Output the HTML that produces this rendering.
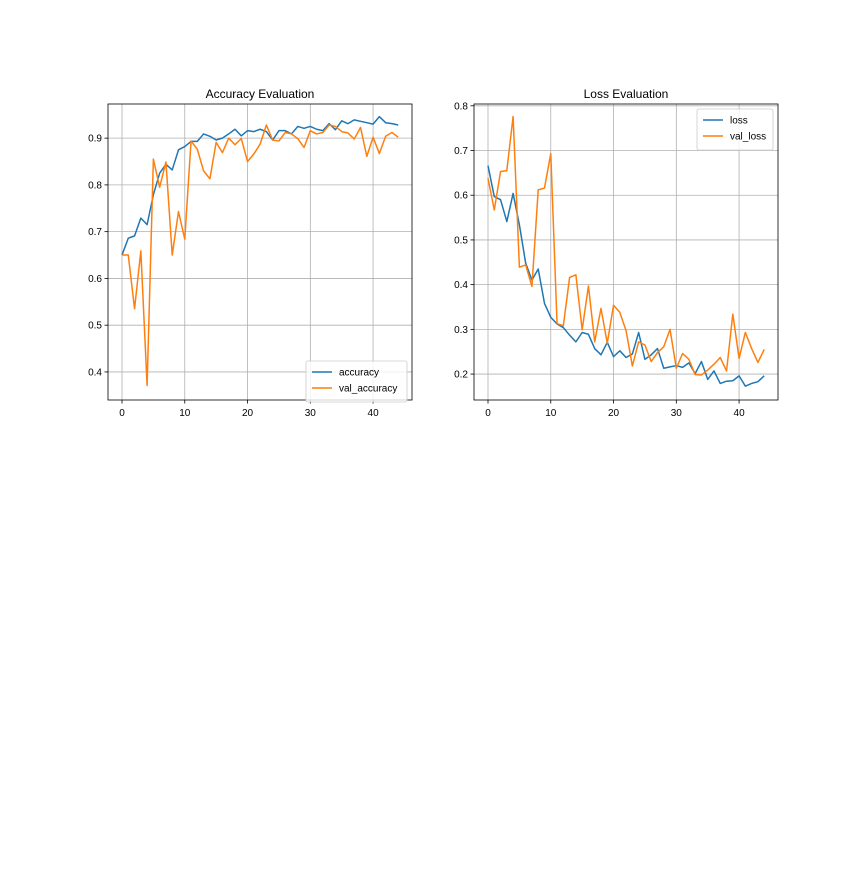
<!DOCTYPE html>
<html><head><meta charset="utf-8"><style>
body{margin:0;background:#fff;width:864px;height:864px;overflow:hidden}
svg{font-family:"Liberation Sans","DejaVu Sans",sans-serif}
</style></head><body>
<svg id="fig" width="864" height="864"></svg>
<script>
const epochs=[];for(let i=0;i<45;i++)epochs.push(i);
const accuracy=[0.65,0.686,0.691,0.729,0.715,0.779,0.825,0.844,0.832,0.875,0.882,0.893,0.893,0.909,0.904,0.896,0.9,0.909,0.919,0.905,0.916,0.914,0.919,0.914,0.896,0.916,0.916,0.909,0.925,0.921,0.925,0.919,0.916,0.931,0.918,0.937,0.931,0.939,0.936,0.933,0.93,0.946,0.933,0.931,0.928];
const valAccuracy=[0.65,0.65,0.535,0.659,0.371,0.855,0.795,0.849,0.65,0.743,0.684,0.894,0.876,0.83,0.813,0.891,0.869,0.9,0.886,0.899,0.85,0.866,0.887,0.928,0.896,0.894,0.912,0.909,0.899,0.88,0.916,0.909,0.912,0.928,0.925,0.914,0.911,0.898,0.923,0.861,0.902,0.867,0.904,0.912,0.902];
const loss=[0.666,0.597,0.59,0.541,0.604,0.534,0.448,0.41,0.435,0.358,0.327,0.312,0.304,0.287,0.272,0.293,0.289,0.257,0.243,0.271,0.239,0.252,0.237,0.245,0.293,0.233,0.243,0.257,0.213,0.216,0.219,0.215,0.225,0.201,0.228,0.188,0.207,0.179,0.184,0.185,0.196,0.173,0.179,0.183,0.196];
const valLoss=[0.638,0.567,0.653,0.655,0.776,0.439,0.444,0.396,0.612,0.616,0.693,0.313,0.308,0.416,0.422,0.299,0.397,0.272,0.347,0.269,0.354,0.338,0.297,0.218,0.272,0.265,0.228,0.248,0.261,0.3,0.213,0.246,0.233,0.199,0.198,0.209,0.222,0.237,0.207,0.334,0.235,0.293,0.257,0.226,0.255];
const xTicks=[0,10,20,30,40];
const accTicks=[0.4,0.5,0.6,0.7,0.8,0.9];
const lossTicks=[0.2,0.3,0.4,0.5,0.6,0.7,0.8];

const NS="http://www.w3.org/2000/svg";
const svg=document.getElementById('fig');
function mk(t,a,p){const e=document.createElementNS(NS,t);for(const k in a)e.setAttribute(k,a[k]);(p||svg).appendChild(e);return e;}

function panel(o){
  const g=mk('g',{});
  
  
  const X=v=>o.x0+(v-o.xmin)/(o.xmax-o.xmin)*(o.x1-o.x0);
  const Y=v=>o.y1-(v-o.ymin)/(o.ymax-o.ymin)*(o.y1-o.y0);
  xTicks.forEach(t=>{
    const l=mk('line',{x1:X(t),x2:X(t),y1:o.y0,y2:o.y1,stroke:'#b0b0b0','stroke-width':0.8},g);
    
    
    mk('line',{x1:X(t),x2:X(t),y1:o.y1,y2:o.y1+3.5,stroke:'#000','stroke-width':0.8},g);
    const tx=mk('text',{x:X(t),y:o.y1+16,'font-size':10,'text-anchor':'middle'},g);tx.textContent=t;
    
    
  });
  o.yt.forEach(t=>{
    const l=mk('line',{x1:o.x0,x2:o.x1,y1:Y(t),y2:Y(t),stroke:'#b0b0b0','stroke-width':0.8},g);
    
    
    mk('line',{x1:o.x0-3.5,x2:o.x0,y1:Y(t),y2:Y(t),stroke:'#000','stroke-width':0.8},g);
    const tx=mk('text',{x:o.x0-6,y:Y(t)+3.5,'font-size':10,'text-anchor':'end'},g);tx.textContent=t.toFixed(1);
    
    
  });
  o.series.forEach(s=>{
    const p=mk('polyline',{points:s.d.map((v,i)=>X(epochs[i])+','+Y(v)).join(' '),fill:'none',stroke:s.c,'stroke-width':1.5,'stroke-linejoin':'round'},g);
    
    
  });
  const fr=mk('rect',{x:o.x0,y:o.y0,width:o.x1-o.x0,height:o.y1-o.y0,fill:'none',stroke:'#000','stroke-width':0.8},g);
  
  
  const ti=mk('text',{x:(o.x0+o.x1)/2,y:o.y0-6,'font-size':12,'text-anchor':'middle'},g);ti.textContent=o.title;
  
  
  const L=o.leg;
  const lg=mk('g',{},g);
  
  
  mk('rect',{x:L.x,y:L.y,width:L.w,height:41,rx:2,fill:'#fff','fill-opacity':0.8,stroke:'#ccc','stroke-width':0.8},lg);
  o.series.forEach((s,i)=>{
    const yy=L.y+11+i*16;
    mk('line',{x1:L.x+6,x2:L.x+26,y1:yy,y2:yy,stroke:s.c,'stroke-width':1.5},lg);
    const t=mk('text',{x:L.x+33,y:yy+3.5,'font-size':10},lg);t.textContent=s.n;
    
    
  });
}
panel({name:'accuracy-chart',title:'Accuracy Evaluation',x0:108,x1:412,y0:104,y1:400,xmin:-2.23,xmax:46.2,ymin:0.340,ymax:0.973,yt:accTicks,
  series:[{n:'accuracy',d:accuracy,c:'#1f77b4'},{n:'val_accuracy',d:valAccuracy,c:'#ff7f0e'}],leg:{x:306,y:361,w:101}});
panel({name:'loss-chart',title:'Loss Evaluation',x0:474,x1:778,y0:104,y1:400,xmin:-2.23,xmax:46.2,ymin:0.142,ymax:0.804,yt:lossTicks,
  series:[{n:'loss',d:loss,c:'#1f77b4'},{n:'val_loss',d:valLoss,c:'#ff7f0e'}],leg:{x:697,y:109,w:76}});
</script>
</body></html>
